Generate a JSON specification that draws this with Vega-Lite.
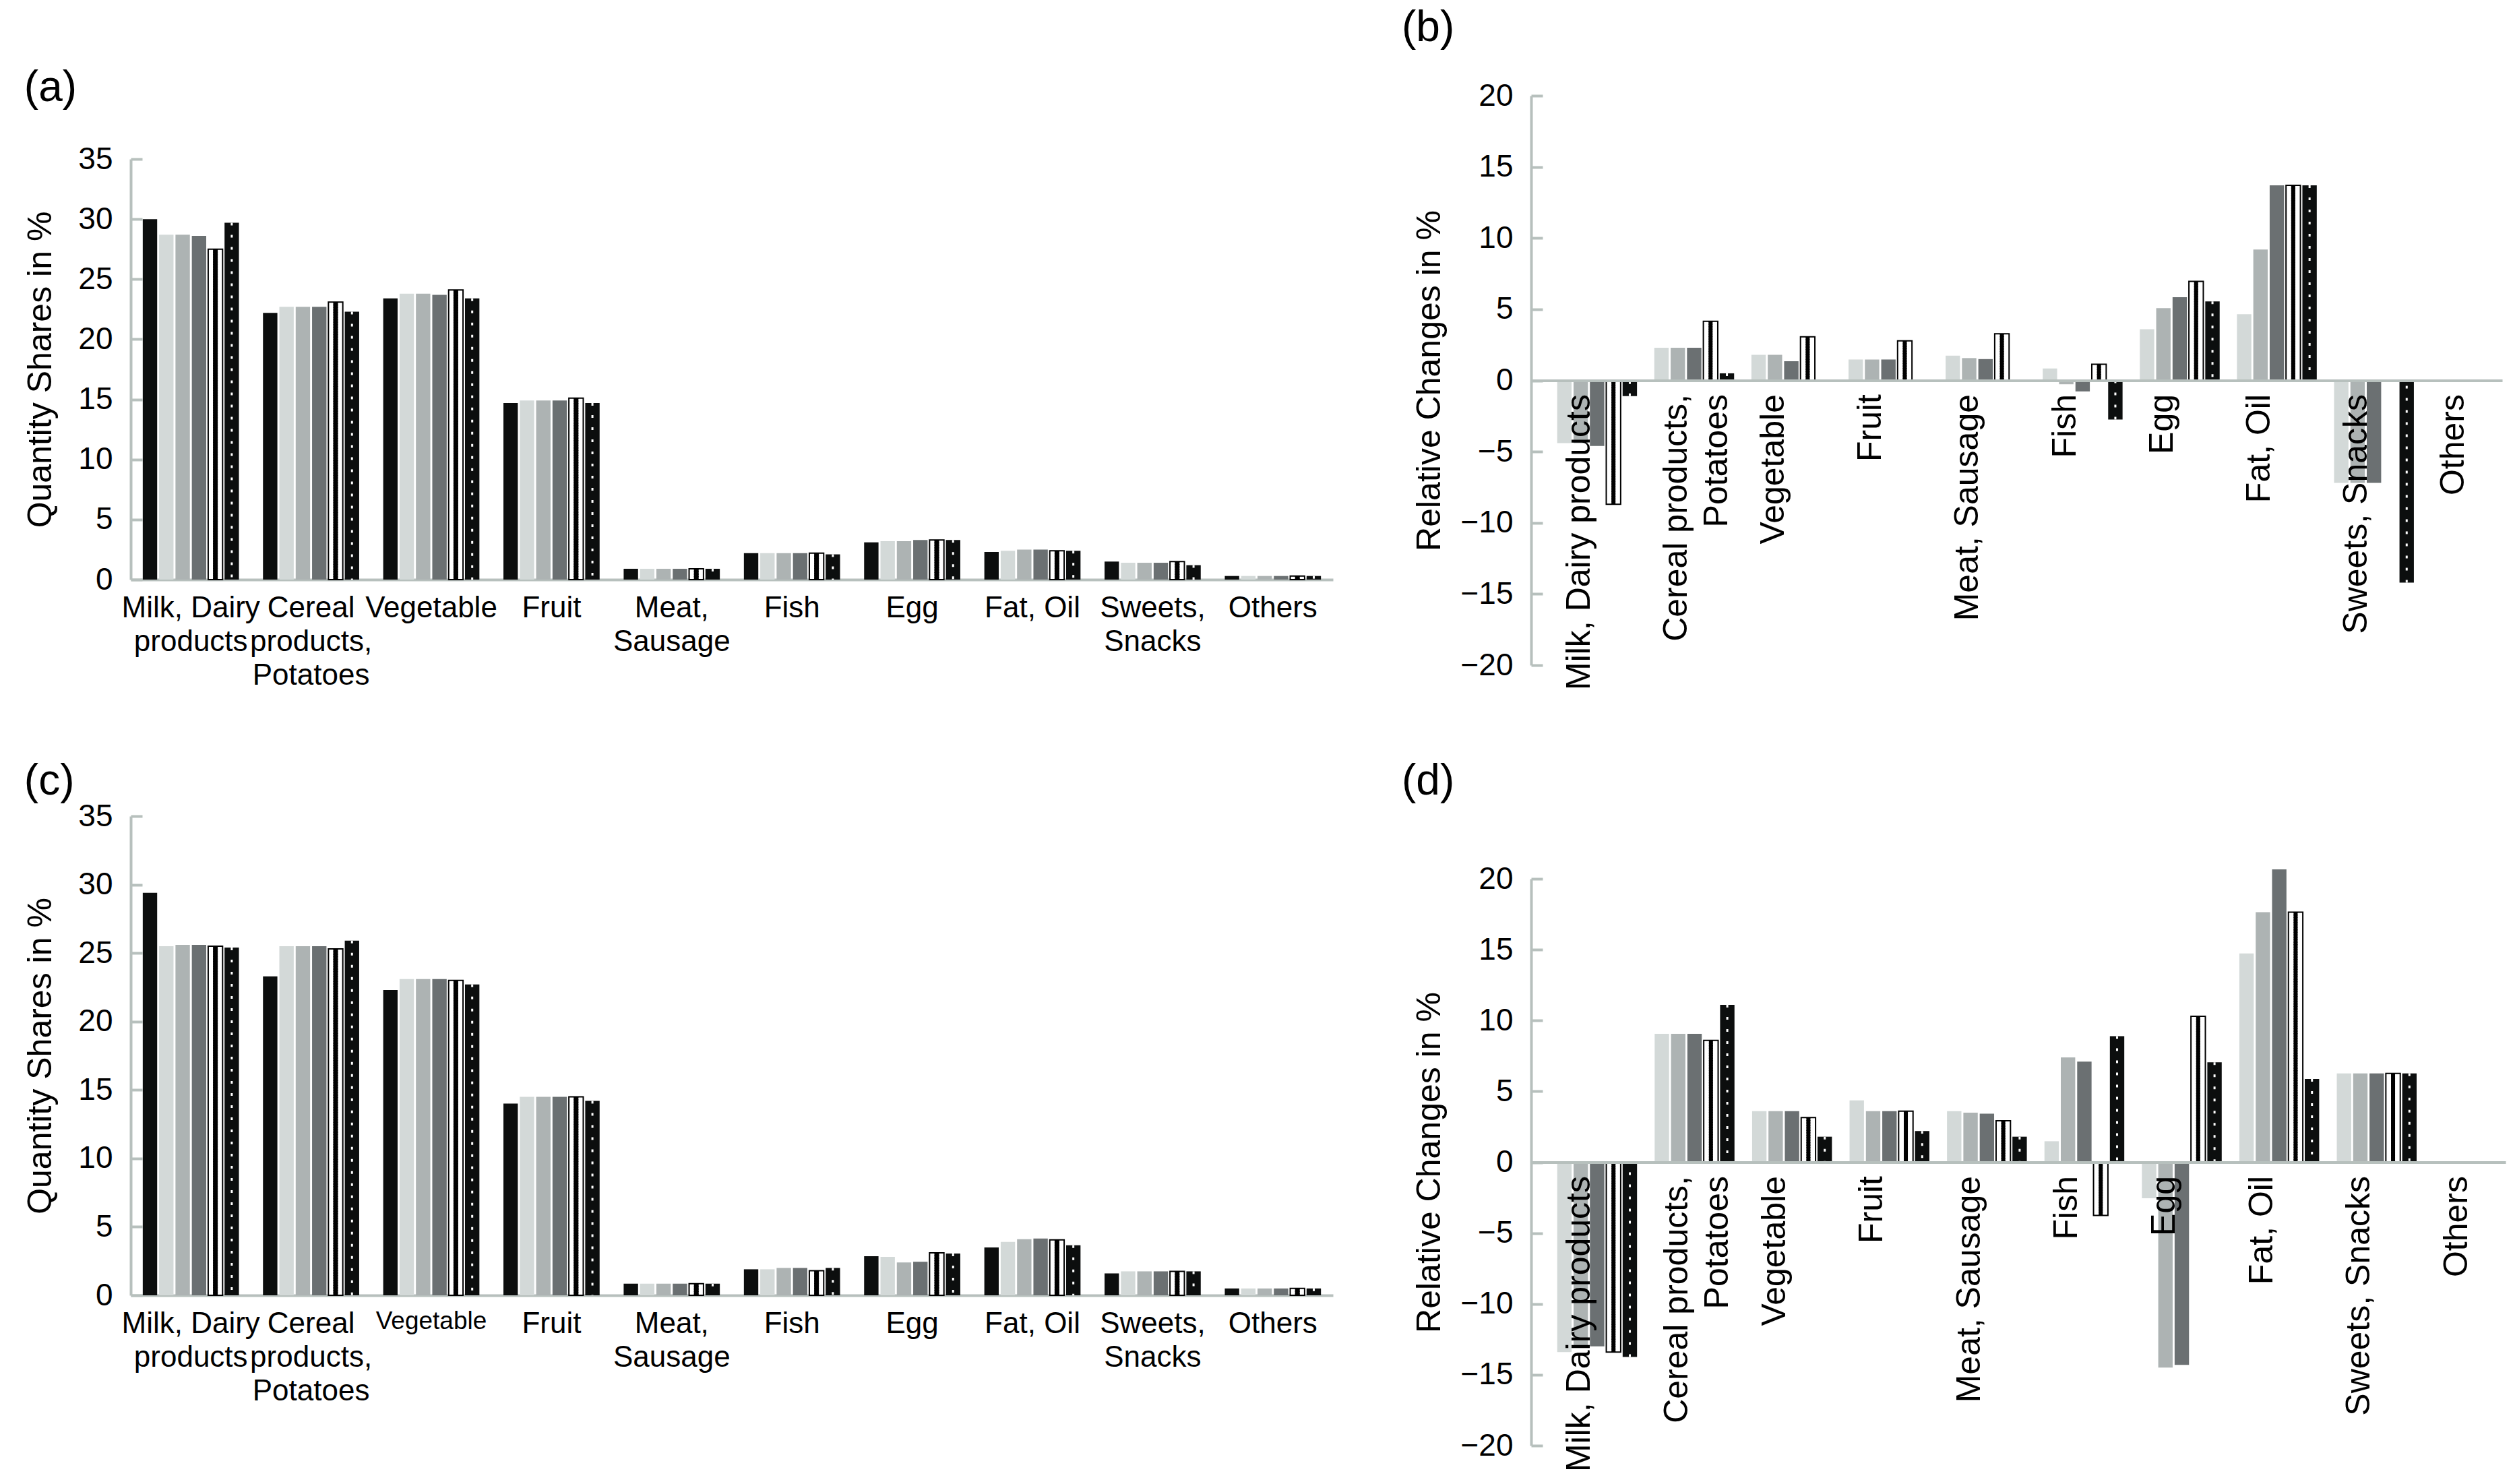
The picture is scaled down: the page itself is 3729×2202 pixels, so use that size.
{
  "$schema": "https://vega.github.io/schema/vega-lite/v6.json",
  "background": "white",
  "padding": {"left": 35, "top": 10, "right": 0, "bottom": 0},
  "datasets": {
    "a": [
      {"category":"Milk, Dairy products","series":"S0","value":30.0},{"category":"Milk, Dairy products","series":"S1","value":28.7},{"category":"Milk, Dairy products","series":"S2","value":28.7},{"category":"Milk, Dairy products","series":"S3","value":28.6},{"category":"Milk, Dairy products","series":"S4","value":27.5},{"category":"Milk, Dairy products","series":"S5","value":29.7},
      {"category":"Cereal products, Potatoes","series":"S0","value":22.2},{"category":"Cereal products, Potatoes","series":"S1","value":22.7},{"category":"Cereal products, Potatoes","series":"S2","value":22.7},{"category":"Cereal products, Potatoes","series":"S3","value":22.7},{"category":"Cereal products, Potatoes","series":"S4","value":23.1},{"category":"Cereal products, Potatoes","series":"S5","value":22.3},
      {"category":"Vegetable","series":"S0","value":23.4},{"category":"Vegetable","series":"S1","value":23.8},{"category":"Vegetable","series":"S2","value":23.8},{"category":"Vegetable","series":"S3","value":23.7},{"category":"Vegetable","series":"S4","value":24.1},{"category":"Vegetable","series":"S5","value":23.4},
      {"category":"Fruit","series":"S0","value":14.7},{"category":"Fruit","series":"S1","value":14.9},{"category":"Fruit","series":"S2","value":14.9},{"category":"Fruit","series":"S3","value":14.9},{"category":"Fruit","series":"S4","value":15.1},{"category":"Fruit","series":"S5","value":14.7},
      {"category":"Meat, Sausage","series":"S0","value":0.9},{"category":"Meat, Sausage","series":"S1","value":0.9},{"category":"Meat, Sausage","series":"S2","value":0.9},{"category":"Meat, Sausage","series":"S3","value":0.9},{"category":"Meat, Sausage","series":"S4","value":0.9},{"category":"Meat, Sausage","series":"S5","value":0.9},
      {"category":"Fish","series":"S0","value":2.2},{"category":"Fish","series":"S1","value":2.2},{"category":"Fish","series":"S2","value":2.2},{"category":"Fish","series":"S3","value":2.2},{"category":"Fish","series":"S4","value":2.2},{"category":"Fish","series":"S5","value":2.1},
      {"category":"Egg","series":"S0","value":3.1},{"category":"Egg","series":"S1","value":3.2},{"category":"Egg","series":"S2","value":3.2},{"category":"Egg","series":"S3","value":3.3},{"category":"Egg","series":"S4","value":3.3},{"category":"Egg","series":"S5","value":3.3},
      {"category":"Fat, Oil","series":"S0","value":2.3},{"category":"Fat, Oil","series":"S1","value":2.4},{"category":"Fat, Oil","series":"S2","value":2.5},{"category":"Fat, Oil","series":"S3","value":2.5},{"category":"Fat, Oil","series":"S4","value":2.4},{"category":"Fat, Oil","series":"S5","value":2.4},
      {"category":"Sweets, Snacks","series":"S0","value":1.5},{"category":"Sweets, Snacks","series":"S1","value":1.4},{"category":"Sweets, Snacks","series":"S2","value":1.4},{"category":"Sweets, Snacks","series":"S3","value":1.4},{"category":"Sweets, Snacks","series":"S4","value":1.5},{"category":"Sweets, Snacks","series":"S5","value":1.2},
      {"category":"Others","series":"S0","value":0.3},{"category":"Others","series":"S1","value":0.3},{"category":"Others","series":"S2","value":0.3},{"category":"Others","series":"S3","value":0.3},{"category":"Others","series":"S4","value":0.3},{"category":"Others","series":"S5","value":0.3}
    ],
    "c": [
      {"category":"Milk, Dairy products","series":"S0","value":29.4},{"category":"Milk, Dairy products","series":"S1","value":25.5},{"category":"Milk, Dairy products","series":"S2","value":25.6},{"category":"Milk, Dairy products","series":"S3","value":25.6},{"category":"Milk, Dairy products","series":"S4","value":25.5},{"category":"Milk, Dairy products","series":"S5","value":25.4},
      {"category":"Cereal products, Potatoes","series":"S0","value":23.3},{"category":"Cereal products, Potatoes","series":"S1","value":25.5},{"category":"Cereal products, Potatoes","series":"S2","value":25.5},{"category":"Cereal products, Potatoes","series":"S3","value":25.5},{"category":"Cereal products, Potatoes","series":"S4","value":25.3},{"category":"Cereal products, Potatoes","series":"S5","value":25.9},
      {"category":"Vegetable","series":"S0","value":22.3},{"category":"Vegetable","series":"S1","value":23.1},{"category":"Vegetable","series":"S2","value":23.1},{"category":"Vegetable","series":"S3","value":23.1},{"category":"Vegetable","series":"S4","value":23.0},{"category":"Vegetable","series":"S5","value":22.7},
      {"category":"Fruit","series":"S0","value":14.0},{"category":"Fruit","series":"S1","value":14.5},{"category":"Fruit","series":"S2","value":14.5},{"category":"Fruit","series":"S3","value":14.5},{"category":"Fruit","series":"S4","value":14.5},{"category":"Fruit","series":"S5","value":14.2},
      {"category":"Meat, Sausage","series":"S0","value":0.85},{"category":"Meat, Sausage","series":"S1","value":0.85},{"category":"Meat, Sausage","series":"S2","value":0.85},{"category":"Meat, Sausage","series":"S3","value":0.85},{"category":"Meat, Sausage","series":"S4","value":0.85},{"category":"Meat, Sausage","series":"S5","value":0.85},
      {"category":"Fish","series":"S0","value":1.9},{"category":"Fish","series":"S1","value":1.9},{"category":"Fish","series":"S2","value":2.0},{"category":"Fish","series":"S3","value":2.0},{"category":"Fish","series":"S4","value":1.8},{"category":"Fish","series":"S5","value":2.0},
      {"category":"Egg","series":"S0","value":2.85},{"category":"Egg","series":"S1","value":2.8},{"category":"Egg","series":"S2","value":2.4},{"category":"Egg","series":"S3","value":2.45},{"category":"Egg","series":"S4","value":3.1},{"category":"Egg","series":"S5","value":3.05},
      {"category":"Fat, Oil","series":"S0","value":3.5},{"category":"Fat, Oil","series":"S1","value":3.9},{"category":"Fat, Oil","series":"S2","value":4.1},{"category":"Fat, Oil","series":"S3","value":4.15},{"category":"Fat, Oil","series":"S4","value":4.05},{"category":"Fat, Oil","series":"S5","value":3.65},
      {"category":"Sweets, Snacks","series":"S0","value":1.6},{"category":"Sweets, Snacks","series":"S1","value":1.75},{"category":"Sweets, Snacks","series":"S2","value":1.75},{"category":"Sweets, Snacks","series":"S3","value":1.75},{"category":"Sweets, Snacks","series":"S4","value":1.75},{"category":"Sweets, Snacks","series":"S5","value":1.75},
      {"category":"Others","series":"S0","value":0.5},{"category":"Others","series":"S1","value":0.5},{"category":"Others","series":"S2","value":0.5},{"category":"Others","series":"S3","value":0.5},{"category":"Others","series":"S4","value":0.5},{"category":"Others","series":"S5","value":0.5}
    ],
    "b": [
      {"category":"Milk, Dairy products","series":"S1","value":-4.4},{"category":"Milk, Dairy products","series":"S2","value":-4.4},{"category":"Milk, Dairy products","series":"S3","value":-4.6},{"category":"Milk, Dairy products","series":"S4","value":-8.7},{"category":"Milk, Dairy products","series":"S5","value":-1.1},
      {"category":"Cereal products, Potatoes","series":"S1","value":2.3},{"category":"Cereal products, Potatoes","series":"S2","value":2.3},{"category":"Cereal products, Potatoes","series":"S3","value":2.3},{"category":"Cereal products, Potatoes","series":"S4","value":4.15},{"category":"Cereal products, Potatoes","series":"S5","value":0.5},
      {"category":"Vegetable","series":"S1","value":1.8},{"category":"Vegetable","series":"S2","value":1.8},{"category":"Vegetable","series":"S3","value":1.35},{"category":"Vegetable","series":"S4","value":3.07},{"category":"Vegetable","series":"S5","value":0},
      {"category":"Fruit","series":"S1","value":1.47},{"category":"Fruit","series":"S2","value":1.47},{"category":"Fruit","series":"S3","value":1.47},{"category":"Fruit","series":"S4","value":2.78},{"category":"Fruit","series":"S5","value":0},
      {"category":"Meat, Sausage","series":"S1","value":1.74},{"category":"Meat, Sausage","series":"S2","value":1.57},{"category":"Meat, Sausage","series":"S3","value":1.5},{"category":"Meat, Sausage","series":"S4","value":3.28},{"category":"Meat, Sausage","series":"S5","value":-0.1},
      {"category":"Fish","series":"S1","value":0.84},{"category":"Fish","series":"S2","value":-0.27},{"category":"Fish","series":"S3","value":-0.77},{"category":"Fish","series":"S4","value":1.14},{"category":"Fish","series":"S5","value":-2.74},
      {"category":"Egg","series":"S1","value":3.6},{"category":"Egg","series":"S2","value":5.08},{"category":"Egg","series":"S3","value":5.85},{"category":"Egg","series":"S4","value":6.96},{"category":"Egg","series":"S5","value":5.55},
      {"category":"Fat, Oil","series":"S1","value":4.65},{"category":"Fat, Oil","series":"S2","value":9.2},{"category":"Fat, Oil","series":"S3","value":13.7},{"category":"Fat, Oil","series":"S4","value":13.7},{"category":"Fat, Oil","series":"S5","value":13.7},
      {"category":"Sweets, Snacks","series":"S1","value":-7.2},{"category":"Sweets, Snacks","series":"S2","value":-7.2},{"category":"Sweets, Snacks","series":"S3","value":-7.2},{"category":"Sweets, Snacks","series":"S4","value":0},{"category":"Sweets, Snacks","series":"S5","value":-14.2},
      {"category":"Others","series":"S1","value":0},{"category":"Others","series":"S2","value":0},{"category":"Others","series":"S3","value":0},{"category":"Others","series":"S4","value":0},{"category":"Others","series":"S5","value":0}
    ],
    "d": [
      {"category":"Milk, Dairy products","series":"S1","value":-13.4},{"category":"Milk, Dairy products","series":"S2","value":-13.0},{"category":"Milk, Dairy products","series":"S3","value":-13.0},{"category":"Milk, Dairy products","series":"S4","value":-13.4},{"category":"Milk, Dairy products","series":"S5","value":-13.75},
      {"category":"Cereal products, Potatoes","series":"S1","value":9.06},{"category":"Cereal products, Potatoes","series":"S2","value":9.06},{"category":"Cereal products, Potatoes","series":"S3","value":9.06},{"category":"Cereal products, Potatoes","series":"S4","value":8.6},{"category":"Cereal products, Potatoes","series":"S5","value":11.1},
      {"category":"Vegetable","series":"S1","value":3.6},{"category":"Vegetable","series":"S2","value":3.6},{"category":"Vegetable","series":"S3","value":3.6},{"category":"Vegetable","series":"S4","value":3.15},{"category":"Vegetable","series":"S5","value":1.8},
      {"category":"Fruit","series":"S1","value":4.36},{"category":"Fruit","series":"S2","value":3.6},{"category":"Fruit","series":"S3","value":3.6},{"category":"Fruit","series":"S4","value":3.6},{"category":"Fruit","series":"S5","value":2.2},
      {"category":"Meat, Sausage","series":"S1","value":3.6},{"category":"Meat, Sausage","series":"S2","value":3.5},{"category":"Meat, Sausage","series":"S3","value":3.42},{"category":"Meat, Sausage","series":"S4","value":2.92},{"category":"Meat, Sausage","series":"S5","value":1.8},
      {"category":"Fish","series":"S1","value":1.48},{"category":"Fish","series":"S2","value":7.4},{"category":"Fish","series":"S3","value":7.1},{"category":"Fish","series":"S4","value":-3.76},{"category":"Fish","series":"S5","value":8.9},
      {"category":"Egg","series":"S1","value":-2.55},{"category":"Egg","series":"S2","value":-14.5},{"category":"Egg","series":"S3","value":-14.3},{"category":"Egg","series":"S4","value":10.3},{"category":"Egg","series":"S5","value":7.05},
      {"category":"Fat, Oil","series":"S1","value":14.73},{"category":"Fat, Oil","series":"S2","value":17.65},{"category":"Fat, Oil","series":"S3","value":20.67},{"category":"Fat, Oil","series":"S4","value":17.65},{"category":"Fat, Oil","series":"S5","value":5.87},
      {"category":"Sweets, Snacks","series":"S1","value":6.27},{"category":"Sweets, Snacks","series":"S2","value":6.27},{"category":"Sweets, Snacks","series":"S3","value":6.27},{"category":"Sweets, Snacks","series":"S4","value":6.27},{"category":"Sweets, Snacks","series":"S5","value":6.27},
      {"category":"Others","series":"S1","value":0},{"category":"Others","series":"S2","value":0},{"category":"Others","series":"S3","value":0},{"category":"Others","series":"S4","value":0},{"category":"Others","series":"S5","value":0}
    ]
  },
  "hconcat": [
    {
      "spacing": 104,
      "vconcat": [
        {
          "width": 1784, "height": 718,
          "title": {"text": "(a)", "offset": 0, "dy": 21},
          "data": {"name": "a"},
          "encoding": {
            "x": {"field": "category", "type": "nominal", "sort": ["Milk, Dairy products","Cereal products, Potatoes","Vegetable","Fruit","Meat, Sausage","Fish","Egg","Fat, Oil","Sweets, Snacks","Others"],
              "scale": {"paddingInner": 0.2, "paddingOuter": 0.1},
              "axis": {"title": null, "ticks": false, "labelAngle": 0, "labelPadding": 20, "labelLineHeight": 50, "labelBaseline": "top", "labelLimit": 1000, "labelOverlap": false, "labelFontSize": 44,
                "labelExpr": "datum.value === 'Milk, Dairy products' ? ['Milk, Dairy', 'products'] : datum.value === 'Cereal products, Potatoes' ? ['Cereal', 'products,', 'Potatoes'] : datum.value === 'Meat, Sausage' ? ['Meat,', 'Sausage'] : datum.value === 'Sweets, Snacks' ? ['Sweets,', 'Snacks'] : datum.value"}},
            "xOffset": {"field": "series", "type": "nominal", "scale": {"domain": ["S0","S1","S2","S3","S4","S5"], "paddingInner": 0.12}},
            "y": {"field": "value", "type": "quantitative", "scale": {"domain": [0, 35], "nice": false, "range": [718, 94]},
              "axis": {"title": "Quantity Shares in %", "values": [0,5,10,15,20,25,30,35], "tickSize": -17, "labelPadding": 44, "titlePadding": 30}}
          },
          "layer": [
            {"transform": [{"filter": "datum.series !== 'S4'"}], "mark": {"type": "bar"},
             "encoding": {"color": {"field": "series", "type": "nominal", "legend": null, "scale": {"domain": ["S0","S1","S2","S3","S4","S5"], "range": ["#0c0e0e","#d3d9d8","#adb3b3","#6b7072","#ffffff","#0c0e0e"]}}}},
            {"transform": [{"filter": "datum.series === 'S4' && datum.value !== 0"}], "mark": {"type": "bar", "fill": "#ffffff", "stroke": "#000000", "strokeWidth": 2}},
            {"transform": [{"filter": "datum.series === 'S4'"}], "mark": {"type": "rule", "stroke": "#000000", "strokeWidth": 7, "strokeDash": [5, 6], "strokeDashOffset": 0}, "encoding": {"y2": {"datum": 0}, "xOffset": {"field": "series", "type": "nominal", "bandPosition": 0.2}}},
            {"transform": [{"filter": "datum.series === 'S4'"}], "mark": {"type": "rule", "stroke": "#000000", "strokeWidth": 7, "strokeDash": [5, 6], "strokeDashOffset": 3.7}, "encoding": {"y2": {"datum": 0}, "xOffset": {"field": "series", "type": "nominal", "bandPosition": 0.5}}},
            {"transform": [{"filter": "datum.series === 'S4'"}], "mark": {"type": "rule", "stroke": "#000000", "strokeWidth": 7, "strokeDash": [5, 6], "strokeDashOffset": 7.3}, "encoding": {"y2": {"datum": 0}, "xOffset": {"field": "series", "type": "nominal", "bandPosition": 0.8}}},
            {"transform": [{"filter": "datum.series === 'S5'"}], "mark": {"type": "rule", "stroke": "#ffffff", "strokeWidth": 3, "strokeDash": [4, 14]}, "encoding": {"y2": {"datum": 0}}}
          ]
        },
        {
          "width": 1784, "height": 711,
          "title": {"text": "(c)", "offset": -4},
          "data": {"name": "c"},
          "encoding": {
            "x": {"field": "category", "type": "nominal", "sort": ["Milk, Dairy products","Cereal products, Potatoes","Vegetable","Fruit","Meat, Sausage","Fish","Egg","Fat, Oil","Sweets, Snacks","Others"],
              "scale": {"paddingInner": 0.2, "paddingOuter": 0.1},
              "axis": {"title": null, "ticks": false, "labelAngle": 0, "labelPadding": 20, "labelLineHeight": 50, "labelBaseline": "top", "labelLimit": 1000, "labelOverlap": false,
                "labelFontSize": {"condition": {"test": "datum.value === 'Vegetable'", "value": 37}, "value": 44},
                "labelExpr": "datum.value === 'Milk, Dairy products' ? ['Milk, Dairy', 'products'] : datum.value === 'Cereal products, Potatoes' ? ['Cereal', 'products,', 'Potatoes'] : datum.value === 'Meat, Sausage' ? ['Meat,', 'Sausage'] : datum.value === 'Sweets, Snacks' ? ['Sweets,', 'Snacks'] : datum.value"}},
            "xOffset": {"field": "series", "type": "nominal", "scale": {"domain": ["S0","S1","S2","S3","S4","S5"], "paddingInner": 0.12}},
            "y": {"field": "value", "type": "quantitative", "scale": {"domain": [0, 35], "nice": false},
              "axis": {"title": "Quantity Shares in %", "values": [0,5,10,15,20,25,30,35], "tickSize": -17, "labelPadding": 44, "titlePadding": 30}}
          },
          "layer": [
            {"transform": [{"filter": "datum.series !== 'S4'"}], "mark": {"type": "bar"},
             "encoding": {"color": {"field": "series", "type": "nominal", "legend": null, "scale": {"domain": ["S0","S1","S2","S3","S4","S5"], "range": ["#0c0e0e","#d3d9d8","#adb3b3","#6b7072","#ffffff","#0c0e0e"]}}}},
            {"transform": [{"filter": "datum.series === 'S4' && datum.value !== 0"}], "mark": {"type": "bar", "fill": "#ffffff", "stroke": "#000000", "strokeWidth": 2}},
            {"transform": [{"filter": "datum.series === 'S4'"}], "mark": {"type": "rule", "stroke": "#000000", "strokeWidth": 7, "strokeDash": [5, 6], "strokeDashOffset": 0}, "encoding": {"y2": {"datum": 0}, "xOffset": {"field": "series", "type": "nominal", "bandPosition": 0.2}}},
            {"transform": [{"filter": "datum.series === 'S4'"}], "mark": {"type": "rule", "stroke": "#000000", "strokeWidth": 7, "strokeDash": [5, 6], "strokeDashOffset": 3.7}, "encoding": {"y2": {"datum": 0}, "xOffset": {"field": "series", "type": "nominal", "bandPosition": 0.5}}},
            {"transform": [{"filter": "datum.series === 'S4'"}], "mark": {"type": "rule", "stroke": "#000000", "strokeWidth": 7, "strokeDash": [5, 6], "strokeDashOffset": 7.3}, "encoding": {"y2": {"datum": 0}, "xOffset": {"field": "series", "type": "nominal", "bandPosition": 0.8}}},
            {"transform": [{"filter": "datum.series === 'S5'"}], "mark": {"type": "rule", "stroke": "#ffffff", "strokeWidth": 3, "strokeDash": [4, 14]}, "encoding": {"y2": {"datum": 0}}}
          ]
        }
      ]
    },
    {
      "spacing": 104,
      "vconcat": [
        {
          "width": 1441, "height": 845,
          "title": {"text": "(b)", "offset": 45, "dx": -17},
          "data": {"name": "b"},
          "encoding": {
            "x": {"field": "category", "type": "nominal", "sort": ["Milk, Dairy products","Cereal products, Potatoes","Vegetable","Fruit","Meat, Sausage","Fish","Egg","Fat, Oil","Sweets, Snacks","Others"],
              "scale": {"paddingInner": 0.2, "paddingOuter": 0.1},
              "axis": {"title": null, "ticks": false, "labelAngle": -90, "labelPadding": 20, "labelLineHeight": 60, "labelLimit": 1000, "labelOverlap": false, "offset": -422.5, "zindex": 1,
                "labelFontSize": 50,
                "labelExpr": "datum.value === 'Cereal products, Potatoes' ? ['Cereal products,', 'Potatoes'] : datum.value"}},
            "xOffset": {"field": "series", "type": "nominal", "scale": {"domain": ["S0","S1","S2","S3","S4","S5"], "paddingInner": 0.12}},
            "y": {"field": "value", "type": "quantitative", "scale": {"domain": [-20, 20], "nice": false},
              "axis": {"title": "Relative Changes in %", "values": [-20,-15,-10,-5,0,5,10,15,20], "tickSize": -17, "labelPadding": 44, "titlePadding": 20}}
          },
          "layer": [
            {"transform": [{"filter": "datum.series !== 'S4'"}], "mark": {"type": "bar"},
             "encoding": {"color": {"field": "series", "type": "nominal", "legend": null, "scale": {"domain": ["S0","S1","S2","S3","S4","S5"], "range": ["#0c0e0e","#d3d9d8","#adb3b3","#6b7072","#ffffff","#0c0e0e"]}}}},
            {"transform": [{"filter": "datum.series === 'S4' && datum.value !== 0"}], "mark": {"type": "bar", "fill": "#ffffff", "stroke": "#000000", "strokeWidth": 2}},
            {"transform": [{"filter": "datum.series === 'S4'"}], "mark": {"type": "rule", "stroke": "#000000", "strokeWidth": 6, "strokeDash": [5, 6], "strokeDashOffset": 0}, "encoding": {"y2": {"datum": 0}, "xOffset": {"field": "series", "type": "nominal", "bandPosition": 0.2}}},
            {"transform": [{"filter": "datum.series === 'S4'"}], "mark": {"type": "rule", "stroke": "#000000", "strokeWidth": 6, "strokeDash": [5, 6], "strokeDashOffset": 3.7}, "encoding": {"y2": {"datum": 0}, "xOffset": {"field": "series", "type": "nominal", "bandPosition": 0.5}}},
            {"transform": [{"filter": "datum.series === 'S4'"}], "mark": {"type": "rule", "stroke": "#000000", "strokeWidth": 6, "strokeDash": [5, 6], "strokeDashOffset": 7.3}, "encoding": {"y2": {"datum": 0}, "xOffset": {"field": "series", "type": "nominal", "bandPosition": 0.8}}},
            {"transform": [{"filter": "datum.series === 'S5'"}], "mark": {"type": "rule", "stroke": "#ffffff", "strokeWidth": 3, "strokeDash": [4, 14]}, "encoding": {"y2": {"datum": 0}}}
          ]
        },
        {
          "width": 1446, "height": 841,
          "title": {"text": "(d)", "offset": 89, "dx": -17},
          "data": {"name": "d"},
          "encoding": {
            "x": {"field": "category", "type": "nominal", "sort": ["Milk, Dairy products","Cereal products, Potatoes","Vegetable","Fruit","Meat, Sausage","Fish","Egg","Fat, Oil","Sweets, Snacks","Others"],
              "scale": {"paddingInner": 0.2, "paddingOuter": 0.1},
              "axis": {"title": null, "ticks": false, "labelAngle": -90, "labelPadding": 20, "labelLineHeight": 60, "labelLimit": 1000, "labelOverlap": false, "offset": -420.5, "zindex": 1,
                "labelFontSize": 50,
                "labelExpr": "datum.value === 'Cereal products, Potatoes' ? ['Cereal products,', 'Potatoes'] : datum.value"}},
            "xOffset": {"field": "series", "type": "nominal", "scale": {"domain": ["S0","S1","S2","S3","S4","S5"], "paddingInner": 0.12}},
            "y": {"field": "value", "type": "quantitative", "scale": {"domain": [-20, 20], "nice": false},
              "axis": {"title": "Relative Changes in %", "values": [-20,-15,-10,-5,0,5,10,15,20], "tickSize": -17, "labelPadding": 44, "titlePadding": 20}}
          },
          "layer": [
            {"transform": [{"filter": "datum.series !== 'S4'"}], "mark": {"type": "bar"},
             "encoding": {"color": {"field": "series", "type": "nominal", "legend": null, "scale": {"domain": ["S0","S1","S2","S3","S4","S5"], "range": ["#0c0e0e","#d3d9d8","#adb3b3","#6b7072","#ffffff","#0c0e0e"]}}}},
            {"transform": [{"filter": "datum.series === 'S4' && datum.value !== 0"}], "mark": {"type": "bar", "fill": "#ffffff", "stroke": "#000000", "strokeWidth": 2}},
            {"transform": [{"filter": "datum.series === 'S4'"}], "mark": {"type": "rule", "stroke": "#000000", "strokeWidth": 6, "strokeDash": [5, 6], "strokeDashOffset": 0}, "encoding": {"y2": {"datum": 0}, "xOffset": {"field": "series", "type": "nominal", "bandPosition": 0.2}}},
            {"transform": [{"filter": "datum.series === 'S4'"}], "mark": {"type": "rule", "stroke": "#000000", "strokeWidth": 6, "strokeDash": [5, 6], "strokeDashOffset": 3.7}, "encoding": {"y2": {"datum": 0}, "xOffset": {"field": "series", "type": "nominal", "bandPosition": 0.5}}},
            {"transform": [{"filter": "datum.series === 'S4'"}], "mark": {"type": "rule", "stroke": "#000000", "strokeWidth": 6, "strokeDash": [5, 6], "strokeDashOffset": 7.3}, "encoding": {"y2": {"datum": 0}, "xOffset": {"field": "series", "type": "nominal", "bandPosition": 0.8}}},
            {"transform": [{"filter": "datum.series === 'S5'"}], "mark": {"type": "rule", "stroke": "#ffffff", "strokeWidth": 3, "strokeDash": [4, 14]}, "encoding": {"y2": {"datum": 0}}}
          ]
        }
      ]
    }
  ],
  "spacing": 101,
  "config": {
    "view": {"stroke": null},
    "font": "Liberation Sans",
    "axis": {"domainColor": "#b7c0bd", "domainWidth": 4, "tickColor": "#b7c0bd", "tickWidth": 4, "labelColor": "#000000", "titleColor": "#000000", "titleFontWeight": "normal", "grid": false,
      "labelFont": "Liberation Sans", "labelFontSize": 46, "titleFont": "Liberation Sans", "titleFontSize": 50},
    "title": {"font": "Liberation Sans", "fontSize": 64, "fontWeight": "normal", "anchor": "start", "frame": "bounds", "color": "#000000"}
  }
}
